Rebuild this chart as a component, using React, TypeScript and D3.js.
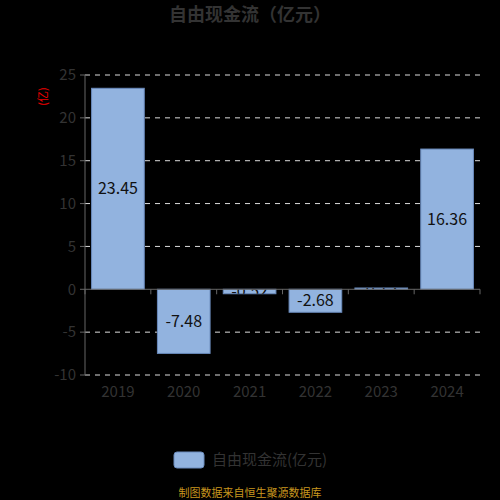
import React from 'react';
import * as d3 from 'd3';

const years = ['2019', '2020', '2021', '2022', '2023', '2024'];
const freeCashFlow = [23.45, -7.48, -0.52, -2.68, 0.15, 16.36];
const yTicks = [-10, -5, 0, 5, 10, 15, 20, 25];

const width = 500;
const height = 500;
const margin = { top: 75, right: 20, bottom: 125, left: 85 };
const font = '"Noto Sans CJK SC", "Noto Sans", sans-serif';
const barFill = '#92b3df';
const barStroke = '#6a8bbd';
const textGray = '#333';

export default function App() {
  const x = d3
    .scaleBand<string>()
    .domain(years)
    .range([margin.left, width - margin.right]);
  const y = d3
    .scaleLinear()
    .domain([-10, 25])
    .range([height - margin.bottom, margin.top]);

  const bw = x.bandwidth();
  const y0 = y(0);

  return (
    <div style={{ position: 'fixed', left: 0, top: 0, background: '#000' }}>
      <svg width={width} height={height} style={{ display: 'block', fontFamily: font }}>
        <rect width={width} height={height} fill="#000" />
        <defs>
          {years.map((yr, i) => {
            const v = freeCashFlow[i];
            return (
              <clipPath id={`clip-${yr}`} key={yr}>
                <rect
                  x={(x(yr) ?? 0) + bw * 0.1}
                  y={Math.min(y(v), y0)}
                  width={bw * 0.8}
                  height={Math.abs(y(v) - y0)}
                />
              </clipPath>
            );
          })}
        </defs>

        <text x={250} y={21} textAnchor="middle" fontSize={18} fontWeight="bold" fill={textGray}>
          自由现金流（亿元）
        </text>

        {/* grid */}
        {yTicks.filter((t) => t !== 0).map((t) => (
          <line
            key={t}
            x1={margin.left}
            x2={width - margin.right}
            y1={y(t)}
            y2={y(t)}
            stroke="#ddd"
            strokeDasharray="5,5"
            strokeWidth={1}
          />
        ))}

        {/* y axis */}
        <line x1={margin.left} x2={margin.left} y1={y(25)} y2={y(-10)} stroke="#666" />
        {yTicks.map((t) => (
          <g key={t}>
            <line x1={margin.left - 5} x2={margin.left} y1={y(t)} y2={y(t)} stroke="#666" />
            <text
              x={margin.left - 9}
              y={y(t)}
              dy="0.35em"
              textAnchor="end"
              fontSize={15}
              fill={textGray}
            >
              {t}
            </text>
          </g>
        ))}
        <text
          transform={`translate(47,${y(22.5)}) rotate(-90)`}
          textAnchor="middle"
          fontSize={11}
          fill="#e00"
        >
          (亿)
        </text>

        {/* bars */}
        {years.map((yr, i) => {
          const v = freeCashFlow[i];
          const bx = (x(yr) ?? 0) + bw * 0.1;
          const top = Math.min(y(v), y0);
          const h = Math.abs(y(v) - y0);
          return (
            <g key={yr}>
              <rect x={bx} y={top} width={bw * 0.8} height={h} fill={barFill} stroke={barStroke} strokeWidth={1} />
              <text
                x={bx + bw * 0.4}
                y={top + h / 2}
                dy="0.35em"
                textAnchor="middle"
                fontSize={16}
                fill="#111"
                clipPath={`url(#clip-${yr})`}
              >
                {v.toFixed(2)}
              </text>
            </g>
          );
        })}

        {/* x axis on zero */}
        <line x1={margin.left} x2={width - margin.right} y1={y0} y2={y0} stroke="#666" />
        {[...years.map((yr) => x(yr) ?? 0), width - margin.right].map((px, i) => (
          <line key={i} x1={px} x2={px} y1={y0} y2={y0 + 5} stroke="#666" />
        ))}
        {years.map((yr) => (
          <text
            key={yr}
            x={(x(yr) ?? 0) + bw / 2}
            y={y(-10) + 22}
            textAnchor="middle"
            fontSize={15}
            fill={textGray}
          >
            {yr}
          </text>
        ))}

        {/* legend */}
        <rect x={174} y={452} width={30} height={16} rx={3} fill={barFill} stroke={barStroke} />
        <text x={212} y={465} fontSize={15} fill={textGray}>
          自由现金流(亿元)
        </text>

        <text x={250} y={497} textAnchor="middle" fontSize={11} fill="#c8961e">
          制图数据来自恒生聚源数据库
        </text>
      </svg>
    </div>
  );
}
